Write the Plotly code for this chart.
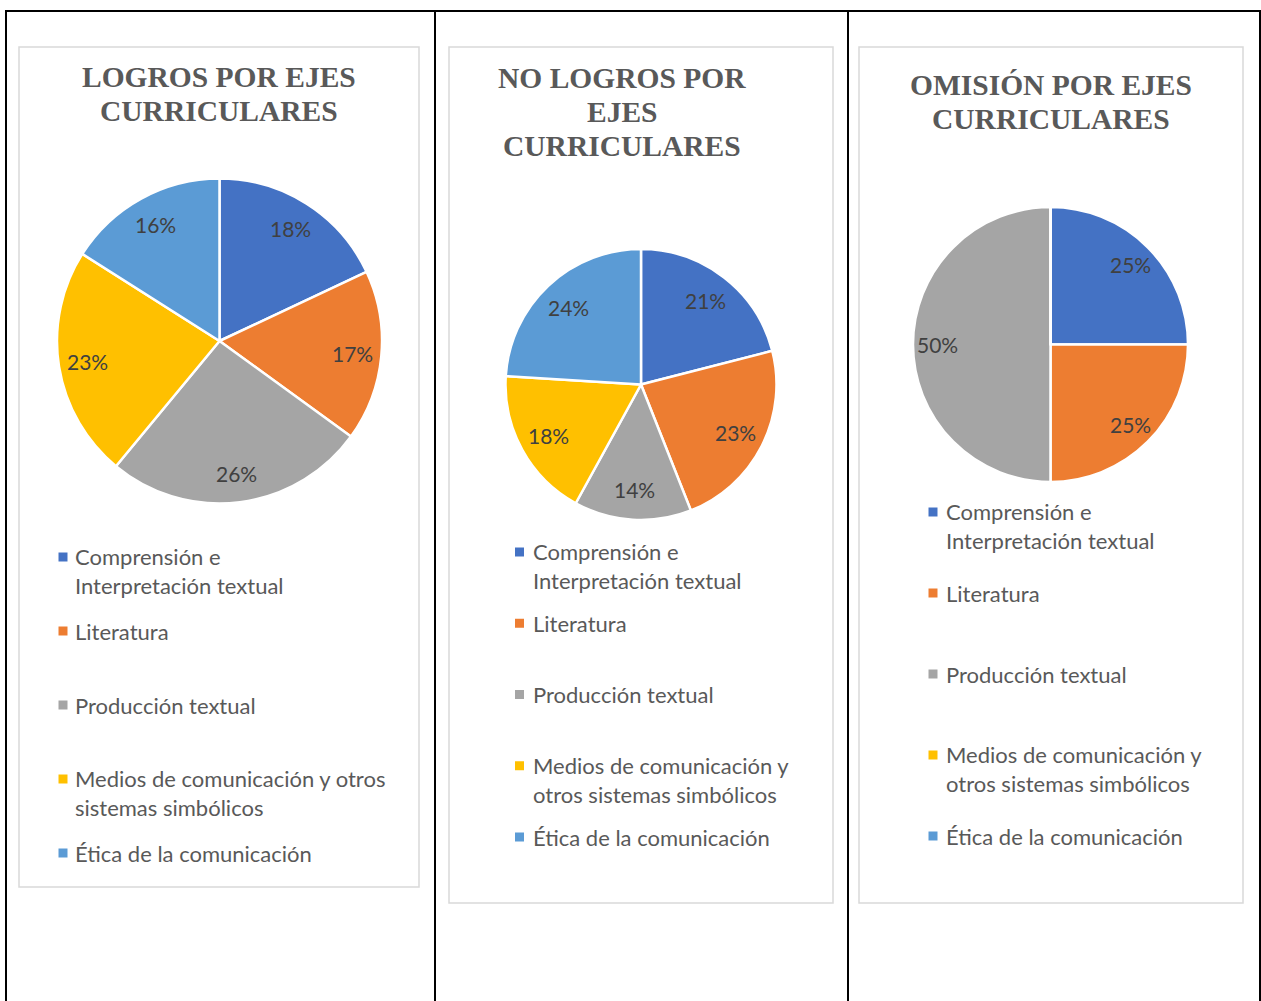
import math
import plotly.graph_objects as go

# ---------------- data ----------------
categories = [
    "Comprensión e Interpretación textual",
    "Literatura",
    "Producción textual",
    "Medios de comunicación y otros sistemas simbólicos",
    "Ética de la comunicación",
]
logros = [18, 17, 26, 23, 16]
no_logros = [21, 23, 14, 18, 24]
omision = [25, 25, 50, 0, 0]

titles = [
    ["LOGROS POR EJES", "CURRICULARES"],
    ["NO LOGROS POR", "EJES", "CURRICULARES"],
    ["OMISIÓN POR EJES", "CURRICULARES"],
]
legend_labels_1 = [
    "Comprensión e<br>Interpretación textual",
    "Literatura",
    "Producción textual",
    "Medios de comunicación y otros<br>sistemas simbólicos",
    "Ética de la comunicación",
]
legend_labels_23 = [
    "Comprensión e<br>Interpretación textual",
    "Literatura",
    "Producción textual",
    "Medios de comunicación y<br>otros sistemas simbólicos",
    "Ética de la comunicación",
]
colors = ["#4472C4", "#ED7D31", "#A5A5A5", "#FFC000", "#5B9BD5"]

# ---------------- layout helpers ----------------
W, H = 1261, 1001


def X(px):
    return px / W


def Y(py):
    return 1 - py / H


# chart layout specs (pixel geometry)
charts = [
    dict(values=logros, legend=legend_labels_1, title=titles[0],
         box=(19, 47, 419, 887), cx=219.5, cy=341, r=162.5, lab_f=0.82,
         title_x=219, title_y=77, leg_mx=63, leg_tx=73, leg_y0=556, leg_dy=74),
    dict(values=no_logros, legend=legend_labels_23, title=titles[1],
         box=(449, 47, 833, 903), cx=641, cy=384.5, r=135.5, lab_f=0.78,
         title_x=622, title_y=78, leg_mx=519.5, leg_tx=531, leg_y0=551, leg_dy=71.25),
    dict(values=omision, legend=legend_labels_23, title=titles[2],
         box=(859, 47, 1243, 903), cx=1050.5, cy=344.5, r=137.5, lab_f=0.82,
         title_x=1051, title_y=85, leg_mx=933, leg_tx=944, leg_y0=511, leg_dy=81),
]

fig = go.Figure()
shapes = []
annotations = []

# table borders
line_black = dict(color="black", width=2)
for x in (6, 435, 848, 1260):
    shapes.append(dict(type="line", xref="paper", yref="paper",
                       x0=X(x), x1=X(x), y0=Y(11), y1=Y(1001), line=line_black))
shapes.append(dict(type="line", xref="paper", yref="paper",
                   x0=X(5), x1=X(1261), y0=Y(11), y1=Y(11), line=line_black))

TITLE_FONT = dict(family="Liberation Serif, Times New Roman, serif", size=29.5, color="#595959")
LEG_FONT = dict(family="Lato, Calibri, sans-serif", size=22, color="#595959")
PCT_FONT = dict(family="Lato, Calibri, sans-serif", size=21, color="#404040")
LH = LEG_FONT["size"] * 1.3

for c in charts:
    x0, y0, x1, y1 = c["box"]
    shapes.append(dict(type="rect", xref="paper", yref="paper", layer="below",
                       x0=X(x0), x1=X(x1), y0=Y(y1), y1=Y(y0),
                       line=dict(color="#D9D9D9", width=1.5), fillcolor="white"))
    # pie
    fig.add_trace(go.Pie(
        values=c["values"], labels=categories,
        marker=dict(colors=colors, line=dict(color="white", width=2.5)),
        sort=False, direction="clockwise", rotation=0,
        textinfo="none", showlegend=False,
        hovertemplate="%{label}: %{value}%<extra></extra>",
        domain=dict(x=[X(c["cx"] - c["r"]), X(c["cx"] + c["r"])],
                    y=[Y(c["cy"] + c["r"]), Y(c["cy"] - c["r"])]),
    ))
    # percentage labels (Excel style, along slice bisector)
    total = sum(c["values"])
    cum = 0
    for v in c["values"]:
        if v > 0:
            mid = (cum + v / 2) / total * 2 * math.pi
            lx = c["cx"] + c["lab_f"] * c["r"] * math.sin(mid)
            ly = c["cy"] - c["lab_f"] * c["r"] * math.cos(mid)
            annotations.append(dict(xref="paper", yref="paper", x=X(lx), y=Y(ly),
                                    text=f"{v}%", showarrow=False, font=PCT_FONT,
                                    xanchor="center", yanchor="middle"))
        cum += v
    # title
    for i, line in enumerate(c["title"]):
        annotations.append(dict(xref="paper", yref="paper", x=X(c["title_x"]),
                                y=Y(c["title_y"] + i * 34), text=f"<b>{line}</b>",
                                showarrow=False, font=TITLE_FONT,
                                xanchor="center", yanchor="middle"))
    # legend
    for i, (lab, col) in enumerate(zip(c["legend"], colors)):
        yc = c["leg_y0"] + i * c["leg_dy"]
        n = lab.count("<br>") + 1
        shapes.append(dict(type="rect", xref="paper", yref="paper",
                           x0=X(c["leg_mx"] - 4.5), x1=X(c["leg_mx"] + 4.5),
                           y0=Y(yc + 5.5), y1=Y(yc - 3.5),
                           line=dict(width=0), fillcolor=col))
        annotations.append(dict(xref="paper", yref="paper", x=X(c["leg_tx"]),
                                y=Y(yc + (n - 1) * LH / 2 + 1), text=lab, showarrow=False,
                                font=LEG_FONT, align="left",
                                xanchor="left", yanchor="middle"))

fig.update_layout(
    width=W, height=H,
    margin=dict(l=0, r=0, t=0, b=0),
    paper_bgcolor="white", plot_bgcolor="white",
    shapes=shapes, annotations=annotations,
)

fig.write_html("out.html", include_plotlyjs=True,
               config={"displayModeBar": False},
               post_script="document.body.style.margin='0';document.body.style.overflow='hidden';")
